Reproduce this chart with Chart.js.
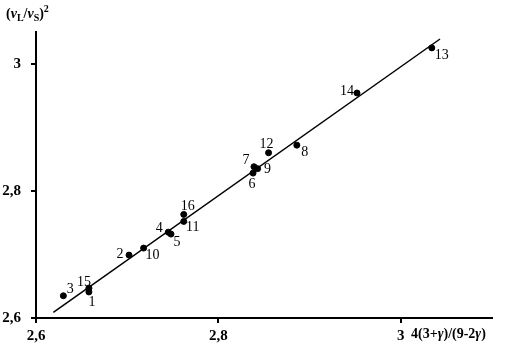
<!DOCTYPE html>
<html>
<head>
<meta charset="utf-8">
<script src="https://cdn.jsdelivr.net/npm/chart.js@4/dist/chart.umd.min.js"></script>
<style>
  html,body{margin:0;padding:0;background:#fff;}
  #wrap{width:510px;height:346px;}
</style>
</head>
<body>
<div id="wrap"><canvas id="scatterChart"></canvas></div>
<script>
// points 1..16
var ids = ['1','2','3','4','5','6','7','8','9','10','11','12','13','14','15','16'];
var xs = [2.658,2.702,2.630,2.745,2.748,2.838,2.839,2.886,2.843,2.718,2.762,2.855,3.034,2.952,2.658,2.762];
var ys = [2.641,2.699,2.635,2.735,2.732,2.828,2.838,2.872,2.835,2.710,2.752,2.860,3.025,2.954,2.647,2.763];
// fitted line ends
var lineX = [2.619,3.043];
var lineY = [2.609,3.039];
var xTicks = [2.6,2.8,3.0];
var yTicks = [2.6,2.8,3.0];
// where the number sits next to its point (px)
var labelOffset = [[3,10],[-9,-1],[7,-6],[-9,-4],[6,8],[-1,11],[-8,-6],[8,7],[10,1],[9,7],[9,6],[-2,-8],[10,7],[-10,-2],[-5,-6],[4,-8]];

var serif = "'Liberation Serif','Times New Roman',serif";
var pts = xs.map(function(x,i){ return {x:x, y:ys[i]}; });
var fit = lineX.map(function(x,i){ return {x:x, y:lineY[i]}; });

function runs(ctx, x, y, parts){
  parts.forEach(function(p){
    ctx.font = p.f;
    ctx.fillText(p.t, x, y + (p.dy||0));
    x += ctx.measureText(p.t).width;
  });
}

var extras = {
  id:'extras',
  afterDatasetsDraw:function(chart){
    var ctx = chart.ctx;
    var meta = chart.getDatasetMeta(1);
    ctx.save();
    ctx.fillStyle = '#000';
    ctx.textAlign = 'center';
    ctx.textBaseline = 'middle';
    ctx.font = '14px ' + serif;
    meta.data.forEach(function(el,i){
      ctx.fillText(ids[i], el.x + labelOffset[i][0], el.y + labelOffset[i][1]);
    });
    ctx.textAlign = 'left';
    ctx.textBaseline = 'alphabetic';
    var b = 'bold 14px ' + serif, bi = 'italic bold 14px ' + serif, s = 'bold 10px ' + serif;
    runs(ctx, 6, 18, [{t:'(',f:b},{t:'v',f:bi},{t:'L',f:s,dy:3},{t:'/',f:b},{t:'v',f:bi},{t:'S',f:s,dy:3},{t:')',f:b},{t:'2',f:s,dy:-6}]);
    runs(ctx, 411, 338, [{t:'4(3+',f:b},{t:'γ',f:bi},{t:')/(9-2',f:b},{t:'γ',f:bi},{t:')',f:b}]);
    ctx.restore();
  }
};

new Chart('scatterChart', {
  type:'scatter',
  data:{
    datasets:[{
      type:'line',
      data:fit,
      borderColor:'#000',
      borderWidth:1.5,
      pointRadius:0,
      fill:false
    },{
      data:pts,
      backgroundColor:'#000',
      borderColor:'#000',
      pointRadius:3,
      pointHoverRadius:3
    }]
  },
  options:{
    responsive:true,
    maintainAspectRatio:false,
    animation:false,
    layout:{padding:{top:32,right:18,left:0,bottom:0}},
    plugins:{legend:{display:false},tooltip:{enabled:false}},
    scales:{
      x:{
        type:'linear', min:2.6, max:3.1,
        afterBuildTicks:function(s){ s.ticks = xTicks.map(function(v){return {value:v};}); },
        afterFit:function(s){ s.height = 28; },
        grid:{drawOnChartArea:false, tickLength:5, color:'#000', lineWidth:2},
        border:{color:'#000', width:2},
        ticks:{color:'#000', padding:4, maxRotation:0,
          font:{family:serif, size:15, weight:'bold'},
          callback:function(v){ return String(Math.round(v*10)/10).replace('.',','); }}
      },
      y:{
        type:'linear', min:2.6, max:3.05,
        afterBuildTicks:function(s){ s.ticks = yTicks.map(function(v){return {value:v};}); },
        afterFit:function(s){ s.width = 36; },
        grid:{drawOnChartArea:false, tickLength:5, color:'#000', lineWidth:2},
        border:{color:'#000', width:2},
        ticks:{color:'#000', padding:10,
          font:{family:serif, size:15, weight:'bold'},
          callback:function(v){ return String(Math.round(v*10)/10).replace('.',','); }}
      }
    }
  },
  plugins:[extras]
});
</script>
</body>
</html>
